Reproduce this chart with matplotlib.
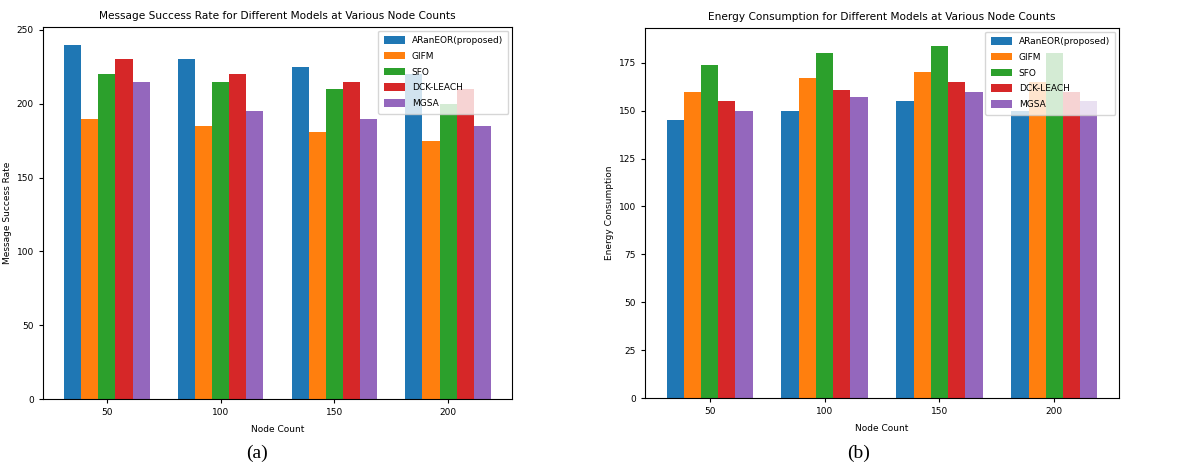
import numpy as np
import matplotlib
matplotlib.use("Agg")
import matplotlib.pyplot as plt

plt.rcParams['font.family'] = ['DejaVu Sans']

node_counts = [50, 100, 150, 200]
models = ['ARanEOR(proposed)', 'GIFM', 'SFO', 'DCK-LEACH', 'MGSA']

# message success rate per model at 50/100/150/200 nodes
msr_araneor = [240, 230, 225, 220]
msr_gifm = [190, 185, 181, 175]
msr_sfo = [220, 215, 210, 200]
msr_dck = [230, 220, 215, 210]
msr_mgsa = [215, 195, 190, 185]

# energy consumption
ec_araneor = [145, 150, 155, 150]
ec_gifm = [160, 167, 170, 165]
ec_sfo = [174, 180, 184, 180]
ec_dck = [155, 161, 165, 160]
ec_mgsa = [150, 157, 160, 155]

msr = [msr_araneor, msr_gifm, msr_sfo, msr_dck, msr_mgsa]
ec = [ec_araneor, ec_gifm, ec_sfo, ec_dck, ec_mgsa]

W, H = 1192, 465
fig = plt.figure(figsize=(W / 100, H / 100), dpi=100)
ax1 = fig.add_axes([43 / W, (H - 399) / H, (512 - 43) / W, (399 - 27) / H])
ax2 = fig.add_axes([645 / W, (H - 398) / H, (1119 - 645) / W, (398 - 28) / H])

x = np.array(node_counts)
width = 7.5


def draw(ax, data, title, ylabel, ylab_x):
    for i, (name, vals) in enumerate(zip(models, data)):
        ax.bar(x + (i - 2) * width, vals, width, label=name)
    ax.set_xticks(x)
    ax.set_xticklabels([str(n) for n in node_counts])
    ax.set_title(title, fontsize=7.6, pad=6)
    ax.set_xlabel('Node Count', fontsize=6.5, labelpad=6)
    ax.set_ylabel(ylabel, fontsize=6.5)
    ax.yaxis.set_label_coords(ylab_x, 0.5)
    ax.tick_params(labelsize=6.5, length=3)
    ax.legend(loc='upper right', fontsize=6.5, labelspacing=0.75,
              handlelength=2.3, handleheight=0.9, borderpad=0.6,
              borderaxespad=0.4)


draw(ax1, msr, 'Message Success Rate for Different Models at Various Node Counts',
     'Message Success Rate', -31 / 469)
draw(ax2, ec, 'Energy Consumption for Different Models at Various Node Counts',
     'Energy Consumption', -31 / 474)

fig.text(257 / W, 1 - 453 / H, '(a)', ha='center', va='center',
         fontsize=14, family='Liberation Serif')
fig.text(859 / W, 1 - 453 / H, '(b)', ha='center', va='center',
         fontsize=14, family='Liberation Serif')

fig.savefig('out.png', dpi=100)
